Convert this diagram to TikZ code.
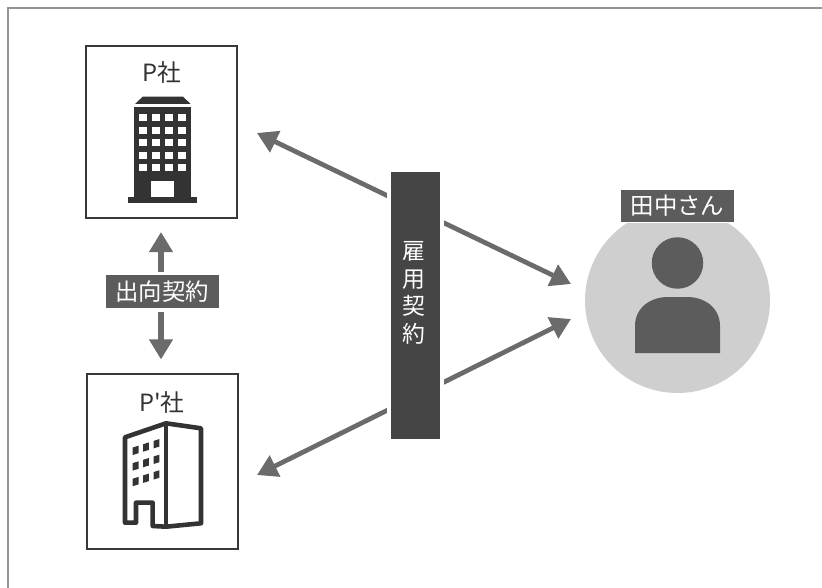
\documentclass[tikz,border=0pt]{standalone}
\usepackage{fontspec}
\newfontfamily\jpfont{Noto Sans CJK JP}
\usepackage{tikz}
\usetikzlibrary{positioning, calc, arrows.meta}

\definecolor{bardark}{gray}{0.27}
\definecolor{tagdark}{gray}{0.36}
\definecolor{arrowgray}{gray}{0.42}
\definecolor{discgray}{gray}{0.81}
\definecolor{persongray}{gray}{0.36}
\definecolor{bldg}{gray}{0.2}
\definecolor{framegray}{gray}{0.58}

\begin{document}
\begin{tikzpicture}[x=0.02cm, y=-0.02cm,
        compbox/.style={draw=black!78, line width=1.15pt, minimum width=3.02cm, inner sep=0pt},
        complabel/.style={font=\jpfont\fontsize{13.5}{15}\selectfont, text=black!80, inner sep=0pt},
        tag/.style={fill=tagdark, draw=white, text=white, font=\jpfont\fontsize{13.3}{15}\selectfont, inner sep=0pt},
        twohead/.style={draw=arrowgray, line width=2.7pt, {Triangle[length=11.5pt,width=13pt]}-{Triangle[length=11.5pt,width=13pt]}}
    ]
    \useasboundingbox (0,0) rectangle (822,588);
    \fill[white] (0,0) rectangle (822,588);
    \draw[framegray, line width=1.1pt] (8,588) -- (8,8) -- (822,8);

    % the two companies
    \node[compbox, minimum height=3.44cm] (psha) at (161.5,132) {};
    \node[compbox, minimum height=3.5cm] (pdash) at (162.5,461.5) {};
    \node[complabel] (pname) at (162,72) {P社};
    \node[complabel] (pdname) at (162,402) {P'社};

    % tanaka
    \node[circle, fill=discgray, minimum size=3.7cm, inner sep=0pt] (tanaka) at (677.5,300.5) {};
    \node[circle, fill=persongray, minimum size=1.03cm, inner sep=0pt] (head) at (677.5,263) {};
    \fill[persongray] (635,353) -- (635,326) .. controls (635,308) and (650,297) .. (668,297)
        -- (687,297) .. controls (705,297) and (720,308) .. (720,326) -- (720,353) -- cycle;
    \node[tag, line width=0.8pt, minimum width=2.3cm, minimum height=0.668cm] (tanakatag) at (677.5,206) {田中さん};

    % free ends of the arrows
    \coordinate (ptip) at (257,133);
    \coordinate (ttop) at (571,284);
    \coordinate (pdtip) at (257,475);
    \coordinate (tbot) at (571,319);
    \coordinate (uptip) at (161,232);
    \coordinate (downtip) at (161,359.5);

    \draw[twohead] (ptip) -- (ttop);
    \draw[twohead] (pdtip) -- (tbot);

    \node[fill=bardark, draw=white, line width=2.27pt, minimum width=1.066cm, minimum height=5.426cm, inner sep=0pt] (koyou) at (415.3,305.3) {};
    \node[text=white, font=\jpfont\fontsize{13}{15.7}\selectfont, align=center, inner sep=0pt] (koyoulabel) at (414,293) {雇\\用\\契\\約};

    \draw[twohead, line width=3pt] (uptip) -- (downtip);
    \node[tag, line width=1.9pt, minimum width=2.33cm, minimum height=0.732cm] (shukko) at (162.3,291.7) {出向契約};

    % solid building
    \fill[bldg] (135,104) -- (142.7,96.7) -- (183,96.7) -- (190.7,104) -- cycle;
    \fill[bldg] (134.3,107.3) rectangle (191,197);
    \fill[bldg] (127.7,196.7) rectangle (197.3,203.3);
    \foreach \cx in {139.3,152.3,165,178.3}
        \foreach \cy in {114,126.7,139.3,151.7,164}
            \fill[white] (\cx,\cy) rectangle ++(7.5,7);
    \fill[white] (151,180.7) rectangle (174.3,196.7);

    % outlined building
    \draw[bldg, line width=2.6pt, line join=round]
        (166,423.3) -- (125,437.3) -- (125,522.7) -- (136,522.7) -- (136,502.7) -- (152.7,502.7) -- (152.7,526) -- (166,526.7) -- (201,523.3) -- (201,428.3) -- cycle;
    \draw[bldg, line width=2.6pt] (166,423.3) -- (166,526.7);
    \foreach \c in {0,1,2}
        \foreach \r in {0,1,2}
            \fill[bldg] ({132.7+10.4*\c},{447.5-3.3*\c+15.6*\r}) -- ++(5.8,-1.8) -- ++(0,7.5) -- ++(-5.8,1.8) -- cycle;
    \end{tikzpicture}
\end{document}
